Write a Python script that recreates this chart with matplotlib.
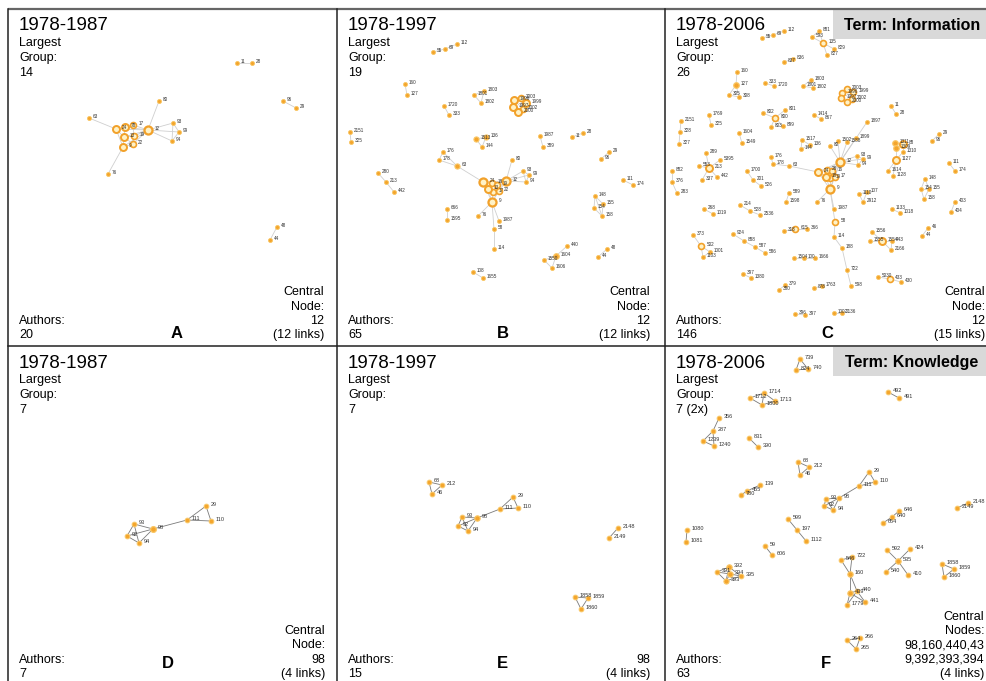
import matplotlib
matplotlib.use("Agg")
import matplotlib.pyplot as plt
from matplotlib.collections import LineCollection
from matplotlib.patches import Rectangle

plt.rcParams["font.family"] = ["Liberation Sans", "DejaVu Sans"]

# ---- panel text ---------------------------------------------------------
periods = ["1978-1987", "1978-1997", "1978-2006", "1978-1987", "1978-1997", "1978-2006"]
largest_group = ["14", "19", "26", "7", "7", "7 (2x)"]
authors = ["20", "65", "146", "7", "15", "63"]
letters = ["A", "B", "C", "D", "E", "F"]
central = [
    "Central\nNode:\n12\n(12 links)",
    "Central\nNode:\n12\n(12 links)",
    "Central\nNode:\n12\n(15 links)",
    "Central\nNode:\n98\n(4 links)",
    "98\n(4 links)",
    "Central\nNodes:\n98,160,440,43\n9,392,393,394\n(4 links)",
]
terms = {2: "Term: Information", 5: "Term: Knowledge"}

# ---- networks: (author id, layout x, layout y) in picture pixels ----------
nodes_a = [
    ("11", 237, 63), ("28", 252, 63), ("96", 283, 101), ("29", 296, 108),
    ("48", 277, 227), ("44", 270, 240), ("80", 159, 101), ("63", 89, 118),
    ("93", 173, 123), ("99", 179, 132), ("94", 172, 141), ("12", 148, 130),
    ("24", 116, 129), ("78", 125, 127), ("17", 133, 125), ("19", 134, 136),
    ("13", 124, 137), ("9", 123, 147), ("22", 133, 144), ("76", 108, 174),
]
weights_a = {"12": 3, "24": 2.5, "78": 2.5, "13": 2.5, "9": 2.5, "17": 2, "19": 2, "22": 2}
edges_a = [
    ("11", "28"), ("96", "29"), ("48", "44"), ("63", "24"), ("80", "12"), ("76", "9"),
    ("12", "93"), ("12", "99"), ("12", "94"), ("93", "99"), ("99", "94"), ("93", "94"),
    ("24", "78"), ("24", "13"), ("24", "9"), ("24", "12"), ("78", "17"), ("78", "12"),
    ("78", "13"), ("17", "12"), ("17", "19"), ("19", "12"), ("13", "12"), ("13", "19"),
    ("13", "22"), ("9", "22"), ("9", "13"), ("22", "12"), ("22", "19"), ("9", "12"),
]

nodes_b = [
    ("55", 433, 52), ("69", 445, 49), ("112", 457, 44), ("160", 405, 84), ("127", 407, 95),
    ("1801", 474, 95), ("1803", 484, 91), ("1802", 481, 103), ("1720", 444, 106), ("333", 449, 115),
    ("1996", 514, 100), ("2003", 521, 98), ("1999", 526, 103), ("1997", 513, 107),
    ("2002", 523, 109), ("2000", 518, 112), ("2151", 350, 132), ("325", 351, 142),
    ("1513", 476, 139), ("136", 486, 137), ("144", 482, 147), ("1987", 540, 136), ("389", 543, 147),
    ("11", 572, 137), ("28", 583, 133), ("29", 609, 152), ("96", 601, 159),
    ("176", 443, 152), ("178", 439, 160), ("63", 457, 166), ("80", 512, 160),
    ("93", 523, 171), ("99", 529, 175), ("94", 526, 182), ("280", 378, 173), ("213", 386, 182),
    ("442", 394, 192), ("24", 483, 182), ("18", 492, 183), ("19", 497, 185), ("12", 506, 181),
    ("13", 488, 189), ("17", 493, 192), ("22", 499, 191), ("9", 492, 202),
    ("666", 447, 209), ("1595", 447, 220), ("76", 478, 216), ("1987#2", 499, 221),
    ("58", 494, 229), ("114", 494, 249), ("111", 623, 180), ("174", 633, 185),
    ("148", 595, 196), ("155", 603, 204), ("154", 594, 208), ("158", 602, 216),
    ("440", 567, 246), ("1604", 556, 256), ("1550", 544, 260), ("1606", 552, 268),
    ("48", 607, 249), ("44", 598, 257), ("108", 473, 272), ("1655", 483, 278),
]
weights_b = {"24": 3, "12": 3, "9": 3, "13": 2.5, "18": 2, "19": 2, "17": 2, "22": 2,
             "1996": 2.5, "2003": 2, "1999": 2.5, "1997": 2.5, "2002": 2, "2000": 2.5,
             "1604": 1.7, "63": 1.5, "1513": 1.5, "136": 1.5}
edges_b = [
    ("55", "69"), ("69", "112"), ("160", "127"), ("1801", "1803"), ("1803", "1802"),
    ("1801", "1802"), ("1720", "333"), ("1996", "2003"), ("1996", "1999"), ("1996", "1997"),
    ("1996", "2002"), ("2003", "1999"), ("2003", "2002"), ("1999", "2002"), ("1997", "2000"),
    ("1997", "2002"), ("2000", "2002"), ("2000", "1999"), ("1996", "2000"),
    ("2151", "325"), ("1513", "136"), ("1513", "144"), ("136", "144"), ("1987", "389"),
    ("11", "28"), ("29", "96"), ("176", "178"), ("178", "63"), ("176", "63"), ("63", "24"),
    ("80", "12"), ("12", "93"), ("12", "99"), ("12", "94"), ("93", "99"), ("93", "94"),
    ("99", "94"), ("280", "213"), ("213", "442"), ("24", "18"), ("24", "13"), ("24", "12"),
    ("18", "12"), ("19", "12"), ("18", "19"), ("13", "17"), ("13", "22"), ("17", "22"),
    ("12", "22"), ("12", "17"), ("13", "9"), ("22", "9"), ("17", "9"), ("24", "9"),
    ("9", "76"), ("9", "1987#2"), ("9", "58"), ("58", "114"), ("666", "1595"), ("111", "174"),
    ("148", "155"), ("148", "154"), ("154", "158"), ("155", "158"), ("148", "158"),
    ("440", "1604"), ("1604", "1550"), ("1604", "1606"), ("1550", "1606"), ("48", "44"),
    ("108", "1655"),
]

nodes_c = [
    ("55", 762, 38), ("69", 773, 35), ("112", 784, 31), ("881", 819, 31), ("593", 812, 37),
    ("135", 823, 43), ("829", 834, 49), ("827", 827, 55), ("837", 784, 62), ("836", 793, 59),
    ("160", 737, 72), ("127", 736, 85), ("305", 729, 95), ("308", 739, 97), ("333", 765, 83),
    ("1720", 774, 86), ("1803", 811, 80), ("1801", 803, 86), ("1802", 813, 88),
    ("2003", 847, 89), ("1996", 842, 93), ("1999", 853, 92), ("1997", 841, 98),
    ("2002", 852, 99), ("2000", 847, 102), ("11", 891, 106), ("28", 896, 114),
    ("2151", 681, 121), ("328", 680, 132), ("327", 679, 144), ("1769", 709, 115), ("325", 711, 125),
    ("802", 763, 113), ("801", 785, 110), ("800", 775, 118), ("803", 771, 127), ("899", 783, 126),
    ("1414", 814, 115), ("867", 821, 119), ("1897", 867, 122), ("29", 939, 134), ("96", 932, 141),
    ("1604", 739, 133), ("1549", 742, 143), ("1517", 802, 140), ("136", 810, 145), ("144", 801, 149),
    ("80", 830, 146), ("1502", 838, 141), ("1588", 847, 142), ("1899", 856, 138),
    ("12", 840, 162), ("93", 857, 156), ("99", 863, 159), ("94", 858, 165),
    ("1311", 895, 143), ("1309", 896, 148), ("88", 903, 144), ("1310", 903, 152),
    ("1127", 896, 160), ("1614", 888, 171), ("1128", 893, 176), ("111", 949, 163), ("174", 955, 171),
    ("176", 771, 157), ("178", 773, 164), ("63", 789, 166), ("289", 706, 153), ("5395", 720, 160),
    ("553", 699, 166), ("213", 709, 168), ("337", 702, 180), ("442", 717, 177),
    ("1700", 747, 171), ("201", 753, 180), ("526", 761, 186), ("882", 672, 171), ("376", 672, 182),
    ("283", 677, 193), ("24", 818, 172), ("26", 827, 170), ("16", 832, 171), ("18", 826, 177),
    ("19", 830, 178), ("17", 835, 177), ("9", 830, 189), ("589", 789, 193), ("1598", 786, 202),
    ("76", 817, 202), ("1110", 859, 194), ("107", 867, 192), ("2912", 863, 202),
    ("1987", 834, 209), ("58", 835, 222), ("114", 834, 237), ("188", 842, 248), ("722", 847, 270),
    ("598", 851, 286), ("148", 925, 179), ("154", 921, 189), ("155", 929, 189), ("158", 924, 199),
    ("403", 955, 202), ("404", 951, 212), ("268", 704, 209), ("1019", 713, 214),
    ("214", 740, 205), ("528", 750, 211), ("2536", 760, 215), ("1133", 892, 209), ("1018", 900, 213),
    ("373", 693, 235), ("502", 701, 246), ("1001", 710, 252), ("1103", 703, 257),
    ("924", 733, 234), ("888", 744, 241), ("587", 755, 247), ("586", 765, 253),
    ("318", 784, 231), ("615", 795, 229), ("366", 807, 229), ("1556", 872, 232),
    ("1555", 870, 241), ("1554", 882, 241), ("443", 892, 241), ("2166", 891, 250),
    ("46", 928, 228), ("44", 922, 236), ("1504", 794, 258), ("100", 804, 258), ("1666", 815, 258),
    ("397", 743, 274), ("1380", 751, 278), ("5030", 878, 277), ("433", 890, 279), ("430", 901, 282),
    ("379", 785, 285), ("380", 779, 290), ("878", 814, 288), ("1763", 822, 286),
    ("396", 795, 314), ("397#2", 805, 315), ("1002", 834, 313), ("2136", 842, 313),
]
weights_c = {"12": 3, "9": 3, "24": 2.5, "18": 2.5, "26": 2, "16": 2, "19": 2, "17": 2,
             "135": 2, "800": 2, "88": 2.5, "1127": 2.5, "213": 2.5, "502": 2, "1554": 2.5,
             "615": 2, "433": 2, "58": 2, "2003": 2, "1996": 2, "1999": 2, "1997": 2,
             "2002": 2, "2000": 2, "127": 1.7, "1309": 1.7, "1311": 1.7}
edges_c = [
    ("55", "69"), ("69", "112"), ("881", "135"), ("593", "135"), ("135", "829"), ("135", "827"),
    ("881", "593"), ("837", "836"), ("160", "127"), ("127", "305"), ("127", "308"), ("305", "308"),
    ("333", "1720"), ("1803", "1801"), ("1801", "1802"), ("1803", "1802"),
    ("1996", "2003"), ("1996", "1999"), ("1996", "1997"), ("2003", "1999"), ("1999", "2002"),
    ("1997", "2000"), ("2000", "2002"), ("1996", "2002"),
    ("11", "28"), ("2151", "328"), ("328", "327"), ("1769", "325"),
    ("800", "802"), ("800", "801"), ("800", "803"), ("800", "899"), ("1414", "867"),
    ("1897", "12"), ("29", "96"), ("1604", "1549"), ("1517", "136"), ("1517", "144"), ("136", "144"),
    ("12", "80"), ("12", "1502"), ("12", "1588"), ("12", "1899"), ("12", "93"), ("12", "99"),
    ("12", "94"), ("93", "99"), ("99", "94"), ("93", "94"),
    ("1311", "1309"), ("1309", "88"), ("88", "1310"), ("1309", "1127"), ("1310", "1127"),
    ("1127", "1614"), ("1127", "1128"), ("111", "174"), ("176", "178"), ("178", "63"), ("63", "24"),
    ("289", "213"), ("5395", "213"), ("553", "213"), ("213", "337"), ("213", "442"),
    ("1700", "201"), ("201", "526"), ("882", "376"), ("376", "283"),
    ("24", "26"), ("24", "18"), ("26", "16"), ("26", "18"), ("16", "17"), ("18", "19"),
    ("19", "17"), ("12", "17"), ("12", "16"), ("12", "19"), ("12", "26"), ("12", "24"),
    ("12", "9"), ("12", "18"), ("18", "9"), ("19", "9"), ("17", "9"), ("24", "9"),
    ("9", "76"), ("9", "1987"), ("9", "58"), ("58", "114"), ("114", "188"), ("188", "722"),
    ("722", "598"), ("589", "1598"), ("1110", "107"), ("107", "2912"), ("1110", "2912"),
    ("148", "154"), ("148", "155"), ("154", "158"), ("155", "158"), ("154", "155"),
    ("403", "404"), ("268", "1019"), ("214", "528"), ("528", "2536"), ("1133", "1018"),
    ("373", "502"), ("502", "1001"), ("502", "1103"), ("1001", "1103"),
    ("924", "888"), ("888", "587"), ("587", "586"), ("318", "615"), ("615", "366"),
    ("1556", "1554"), ("1555", "1554"), ("1554", "443"), ("1554", "2166"), ("443", "2166"),
    ("46", "44"), ("1504", "100"), ("100", "1666"), ("397", "1380"), ("5030", "433"),
    ("433", "430"), ("379", "380"), ("878", "1763"), ("396", "397#2"), ("1002", "2136"),
]

nodes_d = [
    ("29", 206, 506), ("111", 187, 520), ("110", 211, 521), ("98", 153, 529),
    ("93", 134, 524), ("92", 127, 536), ("94", 139, 543),
]
weights_d = {"98": 1.8}
edges_d = [
    ("29", "111"), ("29", "110"), ("111", "110"), ("98", "111"), ("98", "93"),
    ("98", "92"), ("98", "94"), ("93", "92"), ("93", "94"), ("92", "94"),
]

nodes_e = [
    ("68", 429, 482), ("212", 442, 485), ("46", 432, 494), ("29", 513, 497),
    ("111", 500, 509), ("110", 518, 508), ("98", 477, 518), ("93", 462, 517),
    ("92", 458, 526), ("94", 468, 531), ("2148", 618, 528), ("2149", 609, 538),
    ("1858", 575, 597), ("1859", 588, 598), ("1860", 581, 609),
]
weights_e = {"98": 1.6}
edges_e = [
    ("68", "212"), ("68", "46"), ("212", "46"), ("29", "111"), ("29", "110"), ("111", "110"),
    ("98", "111"), ("98", "93"), ("98", "92"), ("98", "94"), ("93", "92"), ("93", "94"),
    ("92", "94"), ("2148", "2149"), ("1858", "1859"), ("1858", "1860"), ("1859", "1860"),
]

nodes_f = [
    ("739", 800, 359), ("824", 796, 370), ("740", 808, 369),
    ("1712", 750, 398), ("1714", 764, 393), ("1713", 775, 401), ("1800", 762, 405),
    ("492", 888, 392), ("491", 899, 398),
    ("356", 719, 418), ("287", 713, 431), ("1239", 703, 441), ("1240", 714, 446),
    ("831", 749, 438), ("390", 758, 447),
    ("68", 798, 462), ("212", 809, 467), ("46", 800, 475),
    ("29", 869, 472), ("111", 859, 486), ("110", 875, 482),
    ("98", 839, 498), ("93", 826, 499), ("92", 824, 506), ("94", 833, 510),
    ("139", 760, 485), ("455", 747, 491), ("780", 741, 495),
    ("2148", 968, 503), ("2149", 957, 508),
    ("646", 899, 511), ("640", 892, 517), ("654", 883, 523),
    ("1080", 687, 530), ("1081", 686, 542),
    ("599", 788, 519), ("197", 797, 530), ("1112", 806, 541),
    ("59", 765, 546), ("606", 772, 555),
    ("592", 887, 550), ("424", 910, 549), ("535", 898, 561), ("540", 886, 572), ("410", 908, 575),
    ("1858", 942, 564), ("1859", 954, 569), ("1860", 944, 577),
    ("392", 729, 567), ("391", 717, 572), ("394", 730, 574), ("395", 741, 576), ("393", 726, 581),
    ("546", 841, 560), ("722", 852, 557), ("160", 850, 574), ("439", 850, 593),
    ("440", 857, 591), ("441", 865, 602), ("1779", 847, 605),
    ("264", 847, 640), ("266", 860, 638), ("265", 856, 649),
]
weights_f = {"160": 1.6, "439": 1.6, "535": 1.6, "392": 1.6, "394": 1.6, "393": 1.5}
edges_f = [
    ("739", "824"), ("739", "740"), ("824", "740"), ("1712", "1714"), ("1712", "1800"),
    ("1714", "1800"), ("1714", "1713"), ("1800", "1713"), ("492", "491"),
    ("356", "287"), ("287", "1239"), ("287", "1240"), ("1239", "1240"), ("831", "390"),
    ("68", "212"), ("68", "46"), ("212", "46"), ("29", "111"), ("29", "110"), ("111", "110"),
    ("98", "111"), ("98", "93"), ("98", "92"), ("98", "94"), ("93", "92"), ("93", "94"),
    ("92", "94"), ("139", "455"), ("455", "780"), ("2148", "2149"), ("646", "640"),
    ("640", "654"), ("1080", "1081"), ("599", "197"), ("197", "1112"), ("59", "606"),
    ("535", "592"), ("535", "424"), ("535", "540"), ("535", "410"),
    ("1858", "1859"), ("1858", "1860"), ("1859", "1860"),
    ("392", "391"), ("392", "394"), ("392", "395"), ("392", "393"), ("393", "391"),
    ("393", "394"), ("394", "391"), ("394", "395"), ("393", "395"),
    ("546", "722"), ("546", "160"), ("722", "160"), ("160", "439"), ("160", "440"),
    ("439", "440"), ("439", "441"), ("439", "1779"), ("440", "441"), ("440", "1779"),
    ("264", "266"), ("264", "265"), ("266", "265"),
]

networks = [
    (nodes_a, edges_a, weights_a), (nodes_b, edges_b, weights_b), (nodes_c, edges_c, weights_c),
    (nodes_d, edges_d, weights_d), (nodes_e, edges_e, weights_e), (nodes_f, edges_f, weights_f),
]

# ---- layout --------------------------------------------------------------
W, H = 987, 681
lefts = [8, 337, 665, 8, 337, 665]
tops = [9, 9, 9, 346, 346, 346]
bottoms = [341, 341, 341, 680, 680, 680]
right_text_x = [324, 650, 985, 325, 650, 984]
letter_x = [177, 503, 827, 168, 502, 826]
letter_y = [333, 333, 333, 664, 664, 664]

fig = plt.figure(figsize=(W / 100, H / 100), dpi=100)
ax = fig.add_axes([0, 0, 1, 1])
ax.set_xlim(0, W)
ax.set_ylim(H, 0)
ax.axis("off")

PX = 72 / 100  # points per pixel


def draw_network(nodes, edges, weights, top_row):
    pos = {key: (x, y) for key, x, y in nodes}
    edge_color = "#cfcfcf" if top_row else "#7a7a7a"
    segs = [[pos[a], pos[b]] for a, b in edges]
    ax.add_collection(LineCollection(segs, colors=edge_color, linewidths=0.6, zorder=1))
    base = 1.0 if top_row else 1.3
    label_size = 3.3 if top_row else 4.0
    for key, x, y in sorted(nodes, key=lambda n: weights.get(n[0], base)):
        w = weights.get(key, base)
        d = 2.2 + 2.7 * w
        if w >= 2:
            face, edge, lw = "#fff2c6", "#f2a12a", 0.22 * d
        else:
            face, edge, lw = "#f4a52c", "#f9c766", 0.18 * d
        ax.scatter([x], [y], s=((d - lw) * PX) ** 2, facecolors=face, edgecolors=edge,
                   linewidths=lw * PX, zorder=2)
        ax.text(x + d / 2 + 1.5, y - 1.5, key.split("#")[0], fontsize=label_size,
                color="#333333", ha="left", va="center", zorder=3)


for i, (nodes, edges, weights) in enumerate(networks):
    top_row = i < 3
    draw_network(nodes, edges, weights, top_row)
    ax.text(lefts[i] + 11, tops[i] + 17, periods[i], fontsize=13.5, ha="left", va="center")
    ax.text(lefts[i] + 11, tops[i] + 28, "Largest\nGroup:\n" + largest_group[i],
            fontsize=9, ha="left", va="top", linespacing=1.32)
    ax.text(lefts[i] + 11, bottoms[i], "Authors:\n" + authors[i],
            fontsize=9, ha="left", va="bottom", linespacing=1.25)
    ax.text(right_text_x[i], bottoms[i], central[i], fontsize=9, ha="right",
            va="bottom", multialignment="right", linespacing=1.25)
    ax.text(letter_x[i], letter_y[i], letters[i], fontsize=12, fontweight="bold",
            ha="center", va="center")
    if i in terms:
        ax.add_patch(Rectangle((833, tops[i] + 1), W - 833, 29, facecolor="#d9d9d9",
                               edgecolor="none", zorder=0))
        ax.text(912, tops[i] + 16, terms[i], fontsize=11.5, fontweight="bold",
                ha="center", va="center")

# panel frame
ax.plot([8, W], [9, 9], color="#666666", lw=1.6, solid_capstyle="butt")
ax.plot([8, W], [346, 346], color="#222222", lw=1.1)
for x in [8, 337, 665]:
    ax.plot([x, x], [9, H], color="#222222", lw=1.1)

fig.savefig("out.png", dpi=100)
